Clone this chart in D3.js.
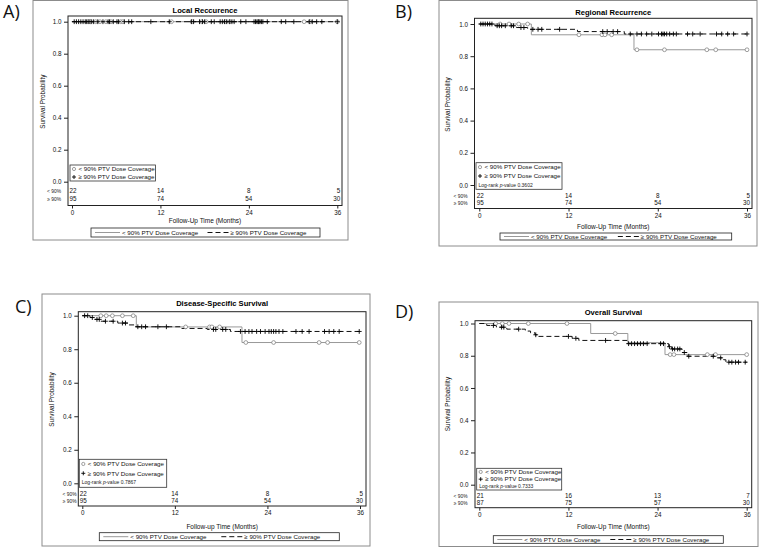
<!DOCTYPE html>
<html>
<head>
<meta charset="utf-8">
<script src="https://cdn.jsdelivr.net/npm/d3@7"></script>
<style>
  body { margin: 0; background: #fff; }
  svg { display: block; font-family: "Liberation Sans", Arial, sans-serif; }
</style>
</head>
<body>
<svg id="chart" width="760" height="547"></svg>
<script>
// shared labels
const timeTicks = [0, 12, 24, 36];
const probTicks = [0, 0.2, 0.4, 0.6, 0.8, 1.0];
const groupNames = ["< 90% PTV Dose Coverage", "\u2265 90% PTV Dose Coverage"];
const riskLabels = ["< 90%", "\u2265 90%"];

// A) local recurrence: no events
const stepsLowA = [[0, 1]];
const stepsHighA = [[0, 1]];
const censLowA = [2.2, 2.5, 3.2, 3.8, 4.6, 5.3, 6.6, 6.9, 13.5, 16.3, 17.6, 18.2, 20.8, 21.4, 25.3, 31.5, 32.3, 36];
const censHighA = [0.3, 0.6, 0.9, 1.2, 1.5, 1.8, 2.0, 2.3, 2.6, 2.9, 3.5, 4.2, 4.9, 5.1, 5.6, 6.1, 6.3, 7.1, 7.7, 8.1, 10.7,
  13.2, 16.2, 16.5, 17.3, 17.7, 18.0, 18.9, 19.3, 20.1, 20.4, 20.7, 21.0, 21.4, 21.7, 22.0, 22.9, 23.6,
  24.7, 24.9, 25.1, 25.3, 25.5, 25.7, 25.9, 26.5, 28.4, 29.0, 30.1, 32.2, 32.6, 33.2, 33.9, 36];
const riskLowA = [22, 14, 8, 5];
const riskHighA = [95, 74, 54, 30];

// B) regional recurrence
const stepsLowB = [[0, 1], [7.0, 0.933], [20.8, 0.84]];
const stepsHighB = [[0, 1], [2.1, 0.989], [5.0, 0.978], [6.5, 0.967], [13.2, 0.953], [19.5, 0.938]];
const censLowB = [2.8, 4.0, 5.3, 6.5, 13.4, 16.5, 16.9, 17.8, 21.2, 24.9, 30.6, 31.8, 36];
const censHighB = [0.2, 0.5, 0.8, 1.1, 1.4, 1.7, 2.4, 2.7, 3.0, 3.5, 4.3, 4.6, 5.6, 6.0, 7.2, 7.9, 8.4, 10.8,
  16.6, 17.2, 18.0, 18.6, 20.3, 21.2, 21.8, 22.5, 23.2, 24.1, 24.5, 24.7, 24.9, 25.2, 25.6, 26.1, 26.5,
  28.0, 28.7, 29.7, 31.9, 32.6, 33.4, 34.2, 36];
const riskLowB = [22, 14, 8, 5];
const riskHighB = [95, 74, 54, 30];
const pValueB = "0.3602";

// C) disease-specific survival
const stepsLowC = [[0, 1], [7.0, 0.933], [20.7, 0.84]];
const stepsHighC = [[0, 1], [1.0, 0.989], [1.6, 0.978], [2.4, 0.967], [4.6, 0.956], [6.0, 0.945], [6.8, 0.934],
  [12.7, 0.924], [16.2, 0.918], [19.2, 0.906]];
const censLowC = [2.4, 3.1, 3.9, 5.2, 6.6, 13.4, 16.5, 16.8, 17.8, 21.2, 24.8, 30.7, 31.8, 35.9];
const censHighC = [0.3, 0.7, 1.3, 1.9, 2.2, 3.0, 4.0, 5.2, 5.6, 7.2, 7.7, 8.2, 9.8, 10.9, 17.0, 17.3, 18.2, 18.6,
  20.5, 21.1, 21.6, 22.0, 22.6, 23.1, 23.7, 24.2, 24.5, 24.8, 25.1, 25.5, 26.0, 27.7, 28.5, 29.4,
  31.4, 32.0, 32.6, 33.3, 35.9];
const riskLowC = [22, 14, 8, 5];
const riskHighC = [95, 74, 54, 30];
const pValueC = "0.7867";

// D) overall survival
const stepsLowD = [[0, 1], [15.0, 0.938], [20.0, 0.881], [25.0, 0.807]];
const stepsHighD = [[0, 1], [1.0, 0.988], [2.3, 0.977], [3.7, 0.965], [6.2, 0.953], [6.9, 0.942], [7.5, 0.93],
  [8.0, 0.92], [12.5, 0.908], [13.4, 0.895], [19.9, 0.875], [25.5, 0.856], [25.9, 0.842], [27.3, 0.82],
  [28.0, 0.797], [32.0, 0.787], [32.9, 0.775], [33.2, 0.76]];
const censLowD = [2.2, 3.1, 4.0, 6.6, 11.8, 18.3, 25.7, 26.2, 30.7, 31.8, 36];
const censHighD = [1.9, 3.0, 3.3, 5.3, 7.6, 12.0, 13.0, 17.0, 20.1, 20.5, 20.9, 21.3, 21.7, 22.1, 22.6, 24.4, 24.8,
  25.6, 26.0, 26.3, 26.7, 27.0, 27.6, 28.2, 31.5, 32.5, 33.6, 34.0, 34.5, 34.9, 35.8];
const riskLowD = [21, 16, 13, 7];
const riskHighD = [87, 75, 57, 30];
const pValueD = "0.7333";

const panels = [
  { letter: "A)", title: "Local Reccurence", xTitle: "Follow-Up Time (Months)",
    low: stepsLowA, high: stepsHighA, censLow: censLowA, censHigh: censHighA,
    riskLow: riskLowA, riskHigh: riskHighA, p: null,
    box: [33, 0.5, 348, 240], letterXY: [3, 18], fl: 68, fr: 342, ft: 16, x0: 72, x36: 337.3,
    y1: 21.7, y0: 181.7, titleY: 13, risk: [193, 200.5], axisY: 205.5, xTitleY: 223,
    riskLabX: 61, yTitleX: 45, inset: [70, 165, 155.5, 181], leg: [91, 228, 320, 237] },
  { letter: "B)", title: "Regional Recurrence", xTitle: "Follow-Up Time (Months)",
    low: stepsLowB, high: stepsHighB, censLow: censLowB, censHigh: censHighB,
    riskLow: riskLowB, riskHigh: riskHighB, p: pValueB,
    box: [439, 0.5, 757, 246], letterXY: [395, 18], fl: 474.5, fr: 752, ft: 18.3, x0: 479.3, x36: 747,
    y1: 24, y0: 185, titleY: 15, risk: [198, 205], axisY: 208.5, xTitleY: 229,
    riskLabX: 467.5, yTitleX: 450, inset: [476, 162.7, 562, 189.3], leg: [500, 233, 731.7, 240] },
  { letter: "C)", title: "Disease-Specific Survival", xTitle: "Follow-up Time (Months)",
    low: stepsLowC, high: stepsHighC, censLow: censLowC, censHigh: censHighC,
    riskLow: riskLowC, riskHigh: riskHighC, p: pValueC,
    box: [42, 294, 370, 546], letterXY: [15, 313], fl: 78.3, fr: 366, ft: 311.7, x0: 82.3, x36: 360,
    y1: 315.7, y0: 483.3, titleY: 306, risk: [495.5, 502.5], axisY: 506, xTitleY: 528.5,
    riskLabX: 76.5, yTitleX: 54, inset: [79.3, 459.3, 166.7, 487.3], leg: [99.3, 532.7, 339.3, 540.7] },
  { letter: "D)", title: "Overall Survival", xTitle: "Follow-Up Time (Months)",
    low: stepsLowD, high: stepsHighD, censLow: censLowD, censHigh: censHighD,
    riskLow: riskLowD, riskHigh: riskHighD, p: pValueD,
    box: [439, 302, 758, 546.5], letterXY: [395, 318], fl: 475, fr: 751.7, ft: 320.7, x0: 479.3, x36: 746.7,
    y1: 323.5, y0: 484.7, titleY: 314.5, risk: [497.5, 504.5], axisY: 507.7, xTitleY: 529,
    riskLabX: 467.5, yTitleX: 450, inset: [476.7, 468.3, 561.7, 490], leg: [493.3, 535.7, 723.3, 543.3] }
];

const svg = d3.select("#chart");
const lowColor = "#999";
const ink = "#111";

function survAt(steps, t) {
  let s = 1;
  steps.forEach(d => { if (d[0] <= t) s = d[1]; });
  return s;
}

function plus(g, cx, cy, h) {
  g.append("path")
    .attr("d", `M${cx - h},${cy}H${cx + h}M${cx},${cy - h}V${cy + h}`)
    .attr("stroke", "#000").attr("stroke-width", 0.9).attr("fill", "none");
}

function drawPanel(p) {
  const g = svg.append("g");
  const x = d3.scaleLinear().domain([0, 36]).range([p.x0, p.x36]);
  const y = d3.scaleLinear().domain([0, 1]).range([p.y0, p.y1]);

  // outer box and letter
  g.append("rect")
    .attr("x", p.box[0]).attr("y", p.box[1])
    .attr("width", p.box[2] - p.box[0]).attr("height", p.box[3] - p.box[1])
    .attr("fill", "none").attr("stroke", "#8c8c8c").attr("stroke-width", 1);
  g.append("text").attr("x", p.letterXY[0]).attr("y", p.letterXY[1])
    .attr("font-family", "'Open Sans', sans-serif").attr("font-size", 18).attr("fill", "#111")
    .text(p.letter);

  // title
  g.append("text").attr("x", (p.fl + p.fr) / 2).attr("y", p.titleY)
    .attr("text-anchor", "middle").attr("font-size", 7.6).attr("font-weight", "bold").attr("fill", "#000")
    .text(p.title);

  // frame
  g.append("rect").attr("x", p.fl).attr("y", p.ft)
    .attr("width", p.fr - p.fl).attr("height", p.axisY - p.ft)
    .attr("fill", "none").attr("stroke", "#222").attr("stroke-width", 1);

  // axes
  const ya = g.append("g").attr("transform", `translate(${p.fl},0)`)
    .call(d3.axisLeft(y).tickValues(probTicks).tickFormat(d3.format(".1f")).tickSize(4).tickPadding(2.5));
  const xa = g.append("g").attr("transform", `translate(0,${p.axisY})`)
    .call(d3.axisBottom(x).tickValues(timeTicks).tickFormat(d3.format("d")).tickSize(3).tickPadding(2));
  [ya, xa].forEach(a => {
    a.select(".domain").remove();
    a.selectAll("text").attr("font-size", 6.3).attr("font-family", "'Liberation Sans', Arial, sans-serif").attr("fill", ink);
    a.selectAll("line").attr("stroke", "#222");
  });

  g.append("text")
    .attr("transform", `translate(${p.yTitleX},${(p.y0 + p.y1) / 2}) rotate(-90)`)
    .attr("text-anchor", "middle").attr("font-size", 6.4).attr("fill", ink)
    .text("Survival Probability");
  g.append("text").attr("x", (p.fl + p.fr) / 2).attr("y", p.xTitleY)
    .attr("text-anchor", "middle").attr("font-size", 6.5).attr("fill", ink)
    .text(p.xTitle);

  // numbers at risk
  [p.riskLow, p.riskHigh].forEach((row, i) => {
    g.append("text").attr("x", p.riskLabX).attr("y", p.risk[i])
      .attr("text-anchor", "end").attr("font-size", 4.9).attr("fill", "#222")
      .text(riskLabels[i]);
    g.selectAll(null).data(row).join("text")
      .attr("x", (d, j) => x(timeTicks[j]))
      .attr("y", p.risk[i])
      .attr("text-anchor", (d, j) => j === 0 ? "start" : (j === 3 ? "end" : "middle"))
      .attr("dx", (d, j) => j === 0 ? -2.5 : (j === 3 ? 3 : 0))
      .attr("font-size", 6.3).attr("fill", ink)
      .text(d => d);
  });

  // curves
  const line = d3.line().x(d => x(d[0])).y(d => y(d[1])).curve(d3.curveStepAfter);
  const lowPts = p.low.concat([[36, p.low[p.low.length - 1][1]]]);
  const highPts = p.high.concat([[36, p.high[p.high.length - 1][1]]]);
  g.append("path").attr("d", line(lowPts))
    .attr("fill", "none").attr("stroke", lowColor).attr("stroke-width", 1);
  g.append("path").attr("d", line(highPts))
    .attr("fill", "none").attr("stroke", "#111").attr("stroke-width", 1).attr("stroke-dasharray", "5,3");

  g.selectAll(null).data(p.censLow).join("circle")
    .attr("cx", d => x(d)).attr("cy", d => y(survAt(p.low, d))).attr("r", 1.9)
    .attr("fill", "#fff").attr("stroke", "#777").attr("stroke-width", 0.7);
  p.censHigh.forEach(t => plus(g, x(t), y(survAt(p.high, t)), 2.4));

  // inset legend
  const [ix0, iy0, ix1, iy1] = p.inset;
  g.append("rect").attr("x", ix0).attr("y", iy0).attr("width", ix1 - ix0).attr("height", iy1 - iy0)
    .attr("fill", "#fff").attr("stroke", "#333").attr("stroke-width", 0.8);
  const rowH = p.p ? (iy1 - iy0) / 3 : (iy1 - iy0) / 2;
  g.append("circle").attr("cx", ix0 + 4).attr("cy", iy0 + rowH * 0.5).attr("r", 1.6)
    .attr("fill", "#fff").attr("stroke", "#777").attr("stroke-width", 0.7);
  plus(g, ix0 + 4, iy0 + rowH * 1.5, 2);
  groupNames.forEach((name, i) => {
    g.append("text").attr("x", ix0 + 8.5).attr("y", iy0 + rowH * (i + 0.5) + 2.2)
      .attr("font-size", 6.2).attr("fill", ink).text(name);
  });
  if (p.p) {
    const t = g.append("text").attr("x", ix0 + 2.5).attr("y", iy0 + rowH * 2.5 + 1.8)
      .attr("font-size", 5).attr("fill", "#222");
    t.append("tspan").text("Log-rank ");
    t.append("tspan").attr("font-style", "italic").text("p");
    t.append("tspan").text("-value " + p.p);
  }

  // bottom legend
  const [lx0, ly0, lx1, ly1] = p.leg;
  const ly = (ly0 + ly1) / 2;
  const half = (lx1 - lx0) / 2;
  g.append("rect").attr("x", lx0).attr("y", ly0).attr("width", lx1 - lx0).attr("height", ly1 - ly0)
    .attr("fill", "#fff").attr("stroke", "#222").attr("stroke-width", 0.8);
  g.append("line").attr("x1", lx0 + 4).attr("x2", lx0 + 29).attr("y1", ly).attr("y2", ly)
    .attr("stroke", lowColor).attr("stroke-width", 1);
  g.append("line").attr("x1", lx0 + half + 2).attr("x2", lx0 + half + 23).attr("y1", ly).attr("y2", ly)
    .attr("stroke", "#111").attr("stroke-width", 1).attr("stroke-dasharray", "5,3");
  g.append("text").attr("x", lx0 + 31).attr("y", ly + 2.2).attr("font-size", 6.2).attr("fill", ink).text(groupNames[0]);
  g.append("text").attr("x", lx0 + half + 25).attr("y", ly + 2.2).attr("font-size", 6.2).attr("fill", ink).text(groupNames[1]);
}

panels.forEach(drawPanel);
</script>
</body>
</html>
